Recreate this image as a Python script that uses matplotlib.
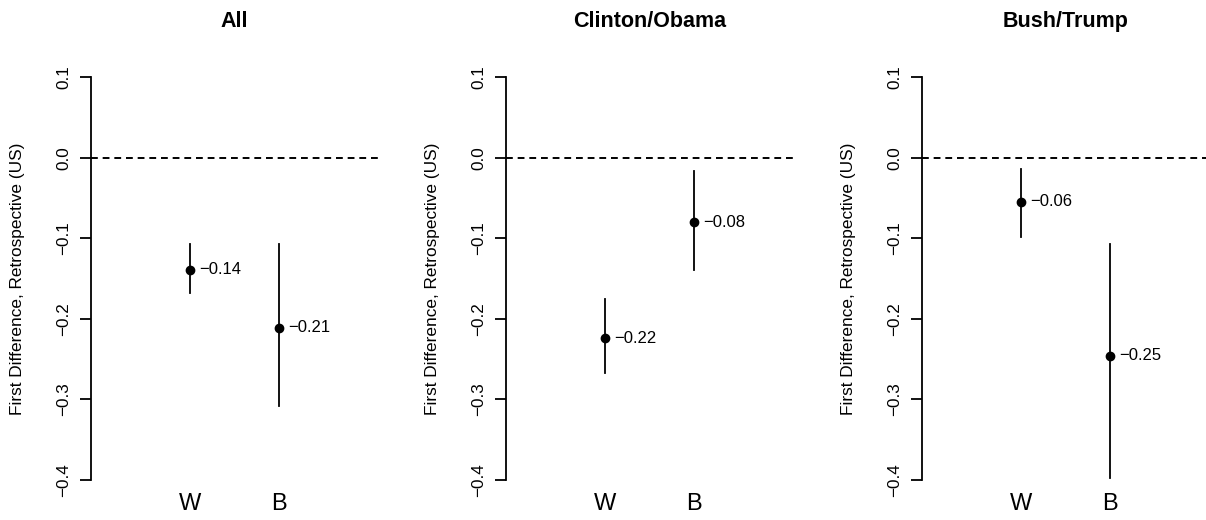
import numpy as np
import matplotlib
matplotlib.use('Agg')
import matplotlib.pyplot as plt

plt.rcParams['font.family'] = ['Liberation Sans', 'DejaVu Sans']

# Data
panels = ['All', 'Clinton/Obama', 'Bush/Trump']
groups = ['W', 'B']
est = [[-0.139, -0.211],
       [-0.224, -0.080],
       [-0.055, -0.246]]
lower = [[-0.168, -0.308],
         [-0.267, -0.139],
         [-0.098, -0.398]]
upper = [[-0.107, -0.107],
         [-0.176, -0.017],
         [-0.014, -0.107]]
labels = [['\u22120.14', '\u22120.21'],
          ['\u22120.22', '\u22120.08'],
          ['\u22120.06', '\u22120.25']]
yticks = [-0.4, -0.3, -0.2, -0.1, 0.0, 0.1]
ytick_labels = ['\u22120.4', '\u22120.3', '\u22120.2', '\u22120.1', '0.0', '0.1']

W, H = 1206, 520
fig = plt.figure(figsize=(W / 100, H / 100), dpi=100)

lefts = [91, 506, 922]  # pixel x of each y-axis
pw = 287
top, bottom = 61, 496

xpos = np.arange(1, len(groups) + 1)

for i, name in enumerate(panels):
    ax = fig.add_axes([lefts[i] / W, 1 - bottom / H, pw / W, (bottom - top) / H])
    ax.set_xlim(-0.12, 3.12)
    ax.set_ylim(-0.42, 0.12)

    # zero reference line
    ax.axhline(0, color='black', ls=(0, (3.5, 2.5)), lw=1.4, clip_on=False)

    for j in range(len(groups)):
        ax.plot([xpos[j], xpos[j]], [lower[i][j], upper[i][j]], color='black', lw=1.3)
        ax.plot(xpos[j], est[i][j], 'o', color='black', ms=6)
        ax.annotate(labels[i][j], (xpos[j], est[i][j]), xytext=(6.5, 0),
                    textcoords='offset points', va='center', ha='left', fontsize=12)

    for s in ['top', 'right', 'bottom']:
        ax.spines[s].set_visible(False)
    ax.spines['left'].set_bounds(-0.4, 0.1)
    ax.spines['left'].set_linewidth(1.3)

    ax.set_yticks(yticks)
    ax.set_yticklabels(ytick_labels, rotation=90, va='center', fontsize=12.3)
    ax.tick_params(axis='y', length=8, width=1.3, pad=6)

    ax.set_xticks(xpos)
    ax.set_xticklabels(groups, fontsize=17)
    ax.tick_params(axis='x', length=0, pad=-2)

    ax.set_ylabel('First Difference, Retrospective (US)', fontsize=12.4)
    ax.yaxis.set_label_coords(-0.23, 0.5)
    ax.set_title(name, fontsize=15.5, fontweight='bold', pad=24.5)

fig.savefig('out.png', dpi=100)
